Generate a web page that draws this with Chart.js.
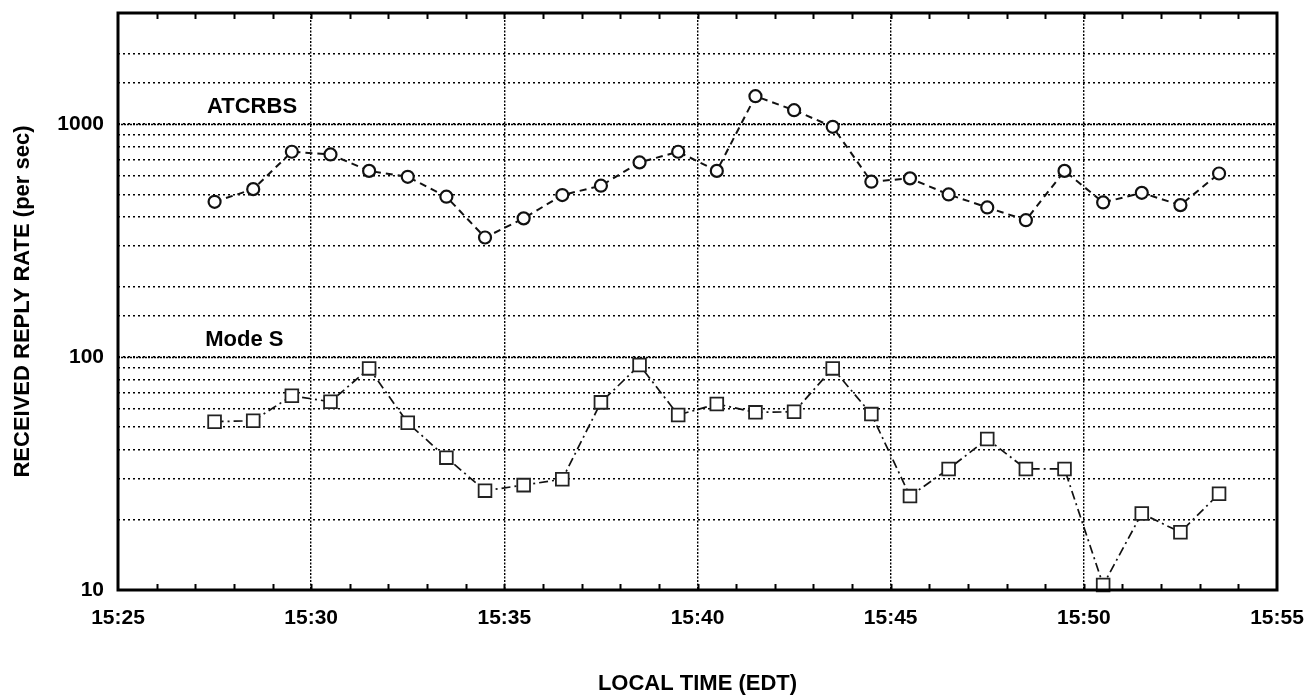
<!DOCTYPE html>
<html>
<head>
<meta charset="utf-8">
<script src="https://cdn.jsdelivr.net/npm/chart.js@4.4.1/dist/chart.umd.min.js"></script>
<style>
  html, body { margin: 0; padding: 0; background: #fff; }
  #wrap { width: 1310px; height: 697px; }
</style>
</head>
<body>
<div id="wrap"><canvas id="replyChart"></canvas></div>
<script>
// sample times, minutes after 15:00
const sampleMinutes = [27.5, 28.5, 29.5, 30.5, 31.5, 32.5, 33.5, 34.5, 35.5, 36.5, 37.5, 38.5, 39.5, 40.5,
  41.5, 42.5, 43.5, 44.5, 45.5, 46.5, 47.5, 48.5, 49.5, 50.5, 51.5, 52.5, 53.5];

const atcrbsRate = [464, 526, 761, 741, 630, 594, 488, 326, 394, 496, 544, 685, 761, 630,
  1318, 1148, 974, 566, 585, 499, 439, 387, 630, 461, 507, 449, 614];

const modeSRate = [52.8, 53.3, 68.2, 64.3, 89.4, 52.2, 37.0, 26.7, 28.2, 29.9, 63.9, 92.4, 56.4, 62.9,
  57.9, 58.2, 89.4, 56.9, 25.3, 33.1, 44.5, 33.1, 33.1, 10.5, 21.3, 17.7, 25.9];

const xTickLabels = ['15:25', '15:30', '15:35', '15:40', '15:45', '15:50', '15:55'];
const yTickLabels = ['10', '100', '1000'];

Chart.defaults.font.family = '"Liberation Sans", Arial, sans-serif';
Chart.defaults.font.weight = 'bold';
Chart.defaults.color = '#000';

const toPoints = (ys) => ys.map((y, i) => ({ x: sampleMinutes[i], y: y }));

// frame, minute ticks, heavier decade lines and the two series names
const paperLook = {
  id: 'paperLook',
  beforeDatasetsDraw(chart) {
    const { ctx, chartArea: a, scales } = chart;
    ctx.save();
    ctx.strokeStyle = '#000';
    ctx.lineWidth = 1.5;
    ctx.setLineDash([2, 1]);
    [100, 1000].forEach((v) => {
      const y = Math.round(scales.y.getPixelForValue(v)) + 0.5;
      ctx.beginPath();
      ctx.moveTo(a.left, y);
      ctx.lineTo(a.right, y);
      ctx.stroke();
    });
    ctx.setLineDash([]);

    ctx.font = 'bold 22px "Liberation Sans", Arial, sans-serif';
    ctx.fillStyle = '#000';
    ctx.textAlign = 'center';
    ctx.textBaseline = 'middle';
    ctx.fillText('ATCRBS', scales.x.getPixelForValue(28.47), scales.y.getPixelForValue(1190));
    ctx.fillText('Mode S', scales.x.getPixelForValue(28.27), scales.y.getPixelForValue(118));
    ctx.restore();
  },
  afterDatasetsDraw(chart) {
    const { ctx, chartArea: a, scales } = chart;
    ctx.save();
    ctx.strokeStyle = '#000';
    ctx.lineWidth = 2;
    for (let m = 26; m < 55; m++) {
      const x = Math.round(scales.x.getPixelForValue(m)) + 0.5;
      ctx.beginPath();
      ctx.moveTo(x, a.bottom);
      ctx.lineTo(x, a.bottom - 6);
      ctx.moveTo(x, a.top);
      ctx.lineTo(x, a.top + 6);
      ctx.stroke();
    }
    ctx.lineWidth = 3;
    ctx.strokeRect(a.left, a.top, a.right - a.left, a.bottom - a.top);
    ctx.restore();
  },
};

new Chart(document.getElementById('replyChart'), {
  type: 'line',
  data: {
    datasets: [
      {
        label: 'ATCRBS',
        data: toPoints(atcrbsRate),
        borderColor: '#111',
        borderWidth: 2,
        borderDash: [7, 5],
        pointStyle: 'circle',
        pointRadius: 6,
        pointBorderWidth: 2.2,
        pointBorderColor: '#111',
        pointBackgroundColor: '#fff',
        tension: 0,
        clip: false,
      },
      {
        label: 'Mode S',
        data: toPoints(modeSRate),
        borderColor: '#111',
        borderWidth: 1.7,
        borderDash: [9, 4, 2, 4],
        pointStyle: 'rect',
        pointRadius: 9,
        pointBorderWidth: 1.8,
        pointBorderColor: '#222',
        pointBackgroundColor: '#fff',
        tension: 0,
        clip: false,
      },
    ],
  },
  options: {
    responsive: true,
    maintainAspectRatio: false,
    animation: false,
    layout: { padding: { top: 13, right: 33, left: 0, bottom: 0 } },
    plugins: {
      legend: { display: false },
      tooltip: { enabled: false },
    },
    scales: {
      x: {
        type: 'linear',
        min: 25,
        max: 55,
        afterFit: (scale) => {
          scale.height = 107;
          scale.paddingLeft = 0;
          scale.paddingRight = 0;
        },
        ticks: {
          stepSize: 5,
          autoSkip: false,
          maxRotation: 0,
          padding: 16,
          font: { size: 21 },
          callback: (v) => xTickLabels[(v - 25) / 5],
        },
        grid: { color: '#000', lineWidth: 1.4, drawTicks: false },
        border: { display: false, dash: [2, 1.5] },
        title: {
          display: true,
          text: 'LOCAL TIME (EDT)',
          font: { size: 22 },
          padding: { top: 0, bottom: 0 },
        },
      },
      y: {
        type: 'logarithmic',
        min: 10,
        max: 3000,
        afterFit: (scale) => {
          scale.width = 118;
          scale.paddingTop = 0;
          scale.paddingBottom = 0;
        },
        ticks: {
          autoSkip: false,
          padding: 14,
          font: { size: 21 },
          callback: (v) => (yTickLabels.includes(String(v)) ? String(v) : ''),
        },
        grid: { color: '#000', lineWidth: 1.5, drawTicks: false },
        border: { display: false, dash: [2, 3] },
        title: {
          display: true,
          text: 'RECEIVED REPLY RATE (per sec)',
          font: { size: 22 },
          padding: { top: 10, bottom: 0 },
        },
      },
    },
  },
  plugins: [paperLook],
});
</script>
</body>
</html>
